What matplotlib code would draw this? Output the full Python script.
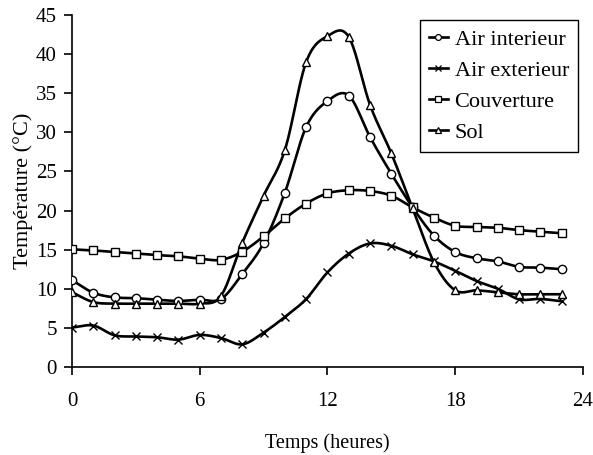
import numpy as np
import matplotlib
matplotlib.use("Agg")
import matplotlib.pyplot as plt

plt.rcParams['font.family'] = ['Liberation Serif', 'DejaVu Serif']

heures = list(range(24))
air_interieur = [11.1, 9.5, 8.9, 8.8, 8.6, 8.45, 8.6, 8.7, 11.9, 15.85, 22.3, 30.7,
                 34.0, 34.7, 29.4, 24.7, 20.4, 16.8, 14.7, 13.9, 13.5, 12.8, 12.7, 12.5]
air_exterieur = [5.05, 5.3, 4.05, 3.9, 3.8, 3.5, 4.1, 3.7, 2.9, 4.4, 6.4, 8.7,
                 12.1, 14.5, 15.8, 15.5, 14.4, 13.5, 12.3, 11.0, 10.0, 8.65, 8.7, 8.4]
couverture = [15.05, 14.9, 14.7, 14.5, 14.3, 14.15, 13.85, 13.7, 14.75, 16.7, 19.0, 20.9,
              22.2, 22.6, 22.5, 21.9, 20.4, 19.1, 18.05, 17.9, 17.8, 17.5, 17.3, 17.1]
sol = [9.55, 8.3, 8.1, 8.1, 8.1, 8.1, 8.1, 9.1, 15.9, 21.9, 27.75, 39.0,
       42.3, 42.2, 33.5, 27.3, 20.3, 13.4, 9.8, 9.8, 9.55, 9.3, 9.3, 9.3]

series = [("Air interieur", air_interieur, "o"),
          ("Air exterieur", air_exterieur, "x"),
          ("Couverture", couverture, "s"),
          ("Sol", sol, "^")]


def smooth(x, y, n=20):
    # catmull-rom curve through the points, like the excel "smoothed line"
    x = np.asarray(x, float)
    y = np.asarray(y, float)
    px = np.concatenate([[2*x[0]-x[1]], x, [2*x[-1]-x[-2]]])
    py = np.concatenate([[2*y[0]-y[1]], y, [2*y[-1]-y[-2]]])
    t = np.linspace(0, 1, n, endpoint=False)
    xs, ys = [], []
    for i in range(1, len(px)-2):
        for p, out in ((px, xs), (py, ys)):
            p0, p1, p2, p3 = p[i-1], p[i], p[i+1], p[i+2]
            out.extend(0.5*((2*p1) + (-p0+p2)*t + (2*p0-5*p1+4*p2-p3)*t**2
                            + (-p0+3*p1-3*p2+p3)*t**3))
    xs.append(x[-1])
    ys.append(y[-1])
    return xs, ys


fig = plt.figure(figsize=(5.93, 4.55), dpi=100)
ax = fig.add_axes([0.1214, 0.1934, 0.8617, 0.7736])

for label, vals, m in series:
    sx, sy = smooth(heures, vals)
    ax.plot(sx, sy, color='black', lw=1.9, zorder=2)
    ax.plot(heures, vals, linestyle='none', marker=m, color='black',
            markerfacecolor='white', markeredgecolor='black', markersize=6,
            markeredgewidth=1.0, zorder=3)
    ax.plot([], [], color='black', lw=1.9, marker=m, markerfacecolor='white',
            markeredgecolor='black', markersize=4.2, markeredgewidth=0.9, label=label)

ax.set_xlim(0, 24)
ax.set_ylim(0, 45)
ax.set_xticks([0, 6, 12, 18, 24])
ax.set_yticks(range(0, 46, 5))
ax.spines['top'].set_visible(False)
ax.spines['right'].set_visible(False)
ax.spines['left'].set_linewidth(1.2)
ax.spines['bottom'].set_linewidth(1.2)
ax.tick_params(direction='out', length=6, width=1.2, labelsize=15, colors='black')
ax.tick_params(axis='x', pad=12)
ax.tick_params(axis='y', pad=5)
ax.set_xlabel("Temps (heures)", fontsize=14.5, labelpad=16)
ax.set_ylabel("Température (°C)", fontsize=16, labelpad=2)

leg = ax.legend(loc='upper right', bbox_to_anchor=(0.99, 0.985), borderaxespad=0,
                fontsize=16, handlelength=0.85, handletextpad=0.3, labelspacing=0.47,
                borderpad=0.4, fancybox=False, edgecolor='black', framealpha=1)
leg.get_frame().set_linewidth(1.0)

fig.savefig("out.png", dpi=100)
